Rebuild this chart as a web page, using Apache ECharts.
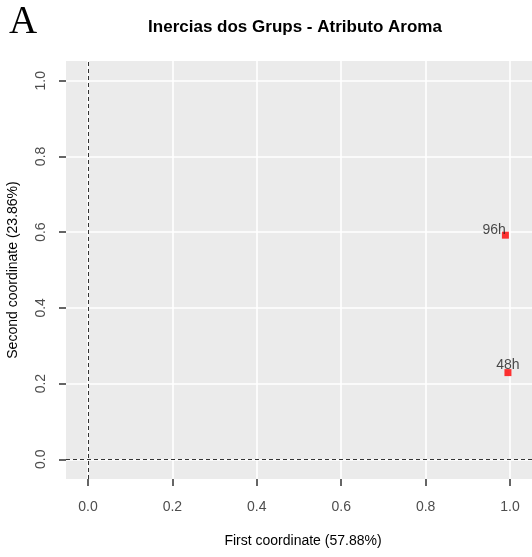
<!DOCTYPE html>
<html>
<head>
<meta charset="utf-8">
<script src="https://cdn.jsdelivr.net/npm/echarts@6/dist/echarts.min.js"></script>
<style>
  html, body { margin: 0; padding: 0; background: #ffffff; }
  #chart { width: 532px; height: 557px; }
</style>
</head>
<body>
<div id="chart"></div>
<script>
// Group inertias for the aroma attribute
var groupNames = ['96h', '48h'];
var firstCoord = [0.989, 0.995];
var secondCoord = [0.592, 0.229];
var tickValues = [0.0, 0.2, 0.4, 0.6, 0.8, 1.0];

// label placement per group (avoids overlap with the marker)
var labelOffsets = {
  '96h': { position: 'left', offset: [4, -5] },
  '48h': { position: 'top', offset: [0, 3] }
};

var font = '"Liberation Sans", Arial, sans-serif';
var tickColor = '#4D4D4D';

var points = groupNames.map(function (n, i) {
  var lo = labelOffsets[n];
  return {
    name: n,
    value: [firstCoord[i], secondCoord[i]],
    label: { show: true, position: lo.position, offset: lo.offset, distance: 0 }
  };
});

function axisCommon(isY) {
  return {
    type: 'value',
    min: -0.052,
    max: 1.052,
    axisLine: { show: false, onZero: false },
    axisTick: {
      show: true, length: 7, customValues: tickValues,
      lineStyle: { color: '#333333', width: 1.5 }
    },
    axisLabel: {
      customValues: tickValues,
      margin: isY ? 18 : 21,
      rotate: isY ? 90 : 0,
      color: tickColor,
      fontSize: 14,
      fontFamily: font,
      formatter: function (v) { return v.toFixed(1); }
    },
    splitLine: { show: true, lineStyle: { color: '#ffffff', width: 1.6 } }
  };
}

var chart = echarts.init(document.getElementById('chart'), null, { renderer: 'canvas' });
chart.setOption({
  animation: false,
  backgroundColor: '#ffffff',
  graphic: [
    {
      type: 'text', left: 9, top: 3,
      style: { text: 'A', font: '39px "Liberation Serif", "Times New Roman", serif', fill: '#000000' }
    },
    {
      type: 'text', x: 295, y: 27,
      style: {
        text: 'Inercias dos Grups - Atributo Aroma',
        font: 'bold 17px "Liberation Sans", Arial, sans-serif',
        fill: '#000000', align: 'center', verticalAlign: 'middle'
      }
    },
    {
      type: 'text', x: 303, y: 541,
      style: {
        text: 'First coordinate (57.88%)',
        font: '14px "Liberation Sans", Arial, sans-serif',
        fill: '#000000', align: 'center', verticalAlign: 'middle'
      }
    },
    {
      type: 'text', x: 13, y: 270, rotation: Math.PI / 2,
      style: {
        text: 'Second coordinate (23.86%)',
        font: '14px "Liberation Sans", Arial, sans-serif',
        fill: '#000000', align: 'center', verticalAlign: 'middle'
      }
    }
  ],
  grid: {
    left: 66, top: 61, width: 470, height: 418,
    show: true, backgroundColor: '#EBEBEB', borderWidth: 0
  },
  xAxis: axisCommon(false),
  yAxis: axisCommon(true),
  series: [{
    type: 'scatter',
    symbol: 'rect',
    symbolSize: 7,
    itemStyle: { color: '#FF0000' },
    label: { color: '#1A1A1A', fontSize: 14, fontFamily: font, formatter: '{b}' },
    data: points,
    markLine: {
      silent: true,
      symbol: 'none',
      label: { show: false },
      lineStyle: { color: '#333333', type: [4, 3], width: 1 },
      data: [{ xAxis: 0 }, { yAxis: 0 }]
    },
    z: 5
  }]
});
</script>
</body>
</html>
